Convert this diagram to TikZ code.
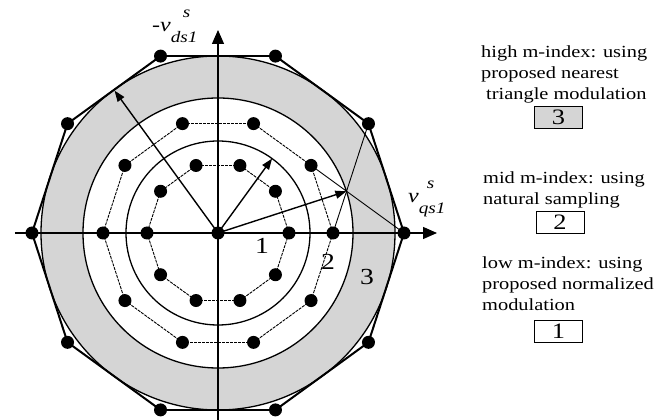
\documentclass[tikz,border=0pt]{standalone}
\usepackage{fontspec}
\setmainfont{Liberation Serif}[FakeStretch=1.2]
\usetikzlibrary{arrows.meta}
\definecolor{band}{HTML}{D5D5D5}
% italic voltage symbol: base, superscript, subscript, shift of superscript
\newcommand{\vsym}[4]{\textit{#1}\rlap{\hspace{#4}\raisebox{14pt}{\fontsize{16}{16}\selectfont\textit{#2}}}\raisebox{-11pt}{\fontsize{16}{16}\selectfont\textit{#3}}}

\begin{document}
\begin{tikzpicture}[x=1pt,y=1pt,
    dot/.style={circle,fill=black,inner sep=0pt,minimum size=13pt},
    ring/.style={line width=1.3pt},
    edge/.style={line width=0.9pt,dash pattern=on 3pt off 1pt},
    rim/.style={line width=2pt,line cap=round},
    vec/.style={line width=1.4pt,-{Triangle[length=11pt,width=8pt]}},
    axis/.style={line width=1.4pt,-{Triangle[length=14pt,width=12pt]}},
    note/.style={align=left,anchor=north west,inner sep=0pt,font=\fontsize{17}{20.8}\selectfont},
    num/.style={inner sep=0pt,font=\fontsize{23}{23}\selectfont},
    legend/.style={draw,line width=0.9pt,minimum width=48pt,minimum height=22pt,inner sep=0pt,font=\fontsize{22}{22}\selectfont}]
    \useasboundingbox (-218,-187) rectangle (452,233);

    % shaded band between natural sampling limit and outer circle
    \fill[band,even odd rule] (0,0) circle (177) (0,0) circle (135);
    \draw[ring] (0,0) circle (177);
    \draw[ring] (0,0) circle (135);
    \draw[ring] (0,0) circle (92);

    % switching states on three decagons
    \coordinate (c) at (0,0);
    \foreach \k in {0,...,9} {
      \coordinate (i\k) at (\k*36:71);
      \coordinate (m\k) at (\k*36:115);
      \coordinate (o\k) at (\k*36:186);
    }

    % axes
    \coordinate (xs) at (-203,0);
    \coordinate (xe) at (219,0);
    \coordinate (ys) at (0,-187);
    \coordinate (ye) at (0,203);
    \draw[axis] (xs) -- (xe);
    \draw[axis] (ys) -- (ye);

    % decagon edges
    \foreach \k in {0,...,9} {
      \pgfmathtruncatemacro{\n}{mod(\k+1,10)}
      \draw[edge] (i\k) -- (i\n);
      \draw[edge] (m\k) -- (m\n);
      \draw[rim] (o\k) -- (o\n);
    }

    % nearest triangle in first sector
    \draw[line width=0.9pt] (o1) -- (m0);
    \draw[line width=0.9pt] (m1) -- (o0);

    % reference vectors
    \coordinate (t1) at (126:176);
    \coordinate (t2) at (54:92);
    \coordinate (t3) at (18:135);
    \draw[vec] (c) -- (t1);
    \draw[vec] (c) -- (t2);
    \draw[vec] (c) -- (t3);

    % dots
    \node[dot] (dc) at (c) {};
    \foreach \k in {0,...,9} {
      \node[dot] (di\k) at (i\k) {};
      \node[dot] (dm\k) at (m\k) {};
      \node[dot] (do\k) at (o\k) {};
    }

    % axis labels
    \node[anchor=base west,inner sep=0pt,font=\fontsize{20}{20}\selectfont] (dlab) at (-66,201) {\vsym{-v}{s}{ds1}{12pt}};
    \node[anchor=base west,inner sep=0pt,font=\fontsize{20}{20}\selectfont] (qlab) at (190,30) {\vsym{v}{s}{qs1}{8pt}};

    % region numbers
    \node[num] (n1) at (44,-13) {1};
    \node[num] (n2) at (110,-29) {2};
    \node[num] (n3) at (149,-44) {3};

    % legend
    \node[note] (high) at (263,187) {high m-index: using\\proposed nearest\\\hspace*{5pt}triangle modulation};
    \node[legend,fill=band] (b3) at (340.5,116) {3};
    \node[note] (mid) at (265,61) {mid m-index: using\\natural sampling};
    \node[legend] (b2) at (342,11) {2};
    \node[note] (low) at (264,-24) {low m-index: using\\proposed normalized\\modulation};
    \node[legend] (b1) at (340.5,-98.5) {1};
\end{tikzpicture}
\end{document}
